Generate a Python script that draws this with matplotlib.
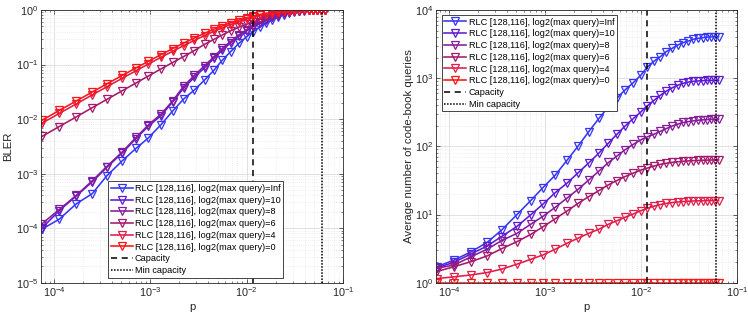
import numpy as np
import matplotlib
matplotlib.use("Agg")
import matplotlib.pyplot as plt
from matplotlib.ticker import LogLocator, NullFormatter

plt.rcParams.update({
    "font.family": ["Liberation Sans", "DejaVu Sans"],
    "font.size": 7.5, "mathtext.fontset": "custom",
    "mathtext.rm": "Liberation Sans", "mathtext.it": "Liberation Sans",
    "xtick.direction": "in", "ytick.direction": "in",
    "xtick.top": True, "ytick.right": True,
    "xtick.minor.visible": True, "ytick.minor.visible": True,
})

# crossover probability grid
p = [7.46e-5, 1.13e-4, 1.70e-4, 2.49e-4, 3.52e-4, 5.1e-4, 7.08e-4, 9.5e-4,
     1.28e-3, 1.70e-3, 2.21e-3, 2.85e-3, 3.65e-3, 4.58e-3, 5.6e-3, 6.8e-3,
     8.3e-3, 1.0e-2, 1.16e-2, 1.37e-2, 1.59e-2, 1.83e-2, 2.11e-2, 2.42e-2,
     2.74e-2, 3.12e-2, 3.51e-2, 3.96e-2, 4.42e-2, 4.9e-2, 5.4e-2, 5.94e-2,
     6.43e-2]
capacity = 0.0116
min_capacity = 0.0604

labels = ["RLC [128,116], log2(max query)=Inf",
          "RLC [128,116], log2(max query)=10",
          "RLC [128,116], log2(max query)=8",
          "RLC [128,116], log2(max query)=6",
          "RLC [128,116], log2(max query)=4",
          "RLC [128,116], log2(max query)=0"]
colors = ["#3535f5", "#5c1ad2", "#861c98", "#a4196c", "#e01c48", "#ff1414"]

# BLER (left)
bler_inf = [9.6e-5, 1.46e-4, 2.8e-4, 4.3e-4, 9.1e-4, 1.72e-3, 2.9e-3, 4.5e-3,
            7.8e-3, 0.014, 0.0233, 0.034, 0.052, 0.079, 0.121, 0.172, 0.245,
            0.324, 0.40, 0.49, 0.57, 0.66, 0.745, 0.82, 0.875, 0.92, 0.952,
            0.972, 0.985, 0.992, 0.996, 0.998, 0.999]
bler_10 = [1.0e-4, 2.1e-4, 3.9e-4, 7.1e-4, 1.3e-3, 2.4e-3, 4.4e-3, 7.4e-3,
           0.0115, 0.0205, 0.037, 0.058, 0.088, 0.13, 0.185, 0.25, 0.33,
           0.415, 0.49, 0.575, 0.655, 0.735, 0.81, 0.87, 0.915, 0.948, 0.97,
           0.983, 0.991, 0.995, 0.998, 0.999, 0.9995]
bler_8 = [1.2e-4, 2.2e-4, 4.0e-4, 7.4e-4, 1.35e-3, 2.5e-3, 4.6e-3, 7.8e-3,
          0.0122, 0.0215, 0.040, 0.063, 0.095, 0.14, 0.20, 0.265, 0.35, 0.435,
          0.51, 0.595, 0.675, 0.755, 0.825, 0.88, 0.922, 0.953, 0.973, 0.985,
          0.992, 0.996, 0.998, 0.999, 0.9995]
bler_6 = [4.8e-3, 7.3e-3, 0.011, 0.0162, 0.0229, 0.0331, 0.0458, 0.0615,
          0.0827, 0.109, 0.14, 0.18, 0.235, 0.29, 0.35, 0.415, 0.485, 0.55,
          0.60, 0.675, 0.74, 0.796, 0.846, 0.888, 0.92, 0.947, 0.966, 0.98,
          0.988, 0.993, 0.996, 0.998, 0.999]
bler_4 = [8.4e-3, 0.0127, 0.019, 0.0278, 0.039, 0.056, 0.0769, 0.102,
          0.135, 0.175, 0.222, 0.276, 0.339, 0.407, 0.471, 0.54, 0.613,
          0.682, 0.736, 0.793, 0.84, 0.88, 0.914, 0.94, 0.959, 0.974, 0.984,
          0.991, 0.995, 0.997, 0.9985, 0.9992, 0.9996]
bler_0 = [9.5e-3, 0.0144, 0.0215, 0.0314, 0.0441, 0.0632, 0.0866, 0.1145,
          0.151, 0.196, 0.247, 0.306, 0.374, 0.445, 0.513, 0.583, 0.656,
          0.724, 0.775, 0.829, 0.871, 0.906, 0.935, 0.957, 0.971, 0.983,
          0.990, 0.994, 0.997, 0.998, 0.9992, 0.9996, 0.9998]

# average number of code-book queries (right)
q_inf = [1.72, 2.15, 2.85, 3.9, 5.9, 10.0, 16.0, 24.8, 38, 63, 101, 164, 258,
         382, 507, 671, 859, 1114, 1450, 1780, 2070, 2450, 2740, 3070, 3320,
         3510, 3720, 3850, 3930, 4000, 4030, 4050, 4070]
q_10 = [1.65, 2.0, 2.65, 3.45, 4.75, 6.7, 9.9, 14.2, 21, 29, 41, 57, 80, 112,
        150, 198, 255, 322, 392, 475, 562, 645, 722, 790, 840, 878, 900, 912,
        920, 925, 928, 930, 932]
q_8 = [1.63, 1.82, 2.41, 3.1, 4.14, 5.3, 7.2, 9.4, 12.8, 17.5, 23.5, 32, 43.5,
       58, 72, 89, 107, 125, 138, 151, 166, 182, 199, 212, 224, 231, 237, 242,
       245, 247, 249, 250, 251]
q_6 = [1.46, 1.72, 2.04, 2.47, 3.15, 4.0, 5.1, 6.6, 8.7, 11.3, 14.6, 18.3,
       22.5, 27.3, 31.5, 36, 40.5, 45, 48, 51.5, 54.5, 56.5, 58.3, 59.5, 60.5,
       61.2, 61.8, 62.2, 62.6, 62.8, 63, 63.1, 63.2]
q_4 = [1.15, 1.22, 1.3, 1.41, 1.58, 1.87, 2.2, 2.55, 3.1, 3.8, 4.5, 5.3, 6.1,
       7.2, 8.1, 9.1, 10.2, 11.4, 12.3, 13.3, 14.0, 14.6, 15.0, 15.3, 15.5,
       15.7, 15.8, 15.9, 15.9, 16.0, 16.0, 16.0, 16.0]
q_0 = [1.0] * len(p)

W, H = 748, 317
fig = plt.figure(figsize=(W / 100, H / 100), dpi=100)
ax1 = fig.add_axes([41 / W, 1 - 282.7 / H, 302 / W, 272.7 / H])
ax2 = fig.add_axes([436 / W, 1 - 282.7 / H, 301 / W, 272.7 / H])


def style(ax, ylim):
    ax.set_xscale("log"); ax.set_yscale("log")
    ax.set_xlim(7.3e-5, 0.1); ax.set_ylim(*ylim)
    ax.xaxis.set_major_locator(LogLocator(base=10, numticks=10))
    ax.xaxis.set_minor_locator(LogLocator(base=10, subs=np.arange(2, 10), numticks=20))
    ax.yaxis.set_major_locator(LogLocator(base=10, numticks=10))
    ax.yaxis.set_minor_locator(LogLocator(base=10, subs=np.arange(2, 10), numticks=20))
    ax.xaxis.set_minor_formatter(NullFormatter())
    ax.yaxis.set_minor_formatter(NullFormatter())
    ax.grid(True, which="major", color="#dcdcdc", lw=0.6)
    ax.grid(True, which="minor", color="#e4e4e4", lw=0.5, ls=":")
    ax.set_axisbelow(True)
    for s in ax.spines.values():
        s.set_color("#262626"); s.set_linewidth(0.6)
    ax.tick_params(which="major", length=3, width=0.5, colors="#262626",
                   labelsize=7.8, pad=2)
    ax.tick_params(which="minor", length=1.6, width=0.4, colors="#262626")
    ax.set_xlabel("p", fontsize=8.2, labelpad=2, color="#262626")


def draw(ax, series):
    for ys, c, lab in zip(series, colors, labels):
        ax.plot(p, ys, "-v", color=c, lw=1.15, ms=5.2, mfc="none", mew=0.9,
                label=lab)
    ax.axvline(capacity, color="k", ls=(0, (4, 3)), lw=1.1, label="Capacity")
    ax.axvline(min_capacity, color="k", ls=(0, (1, 1)), lw=1.1,
               label="Min capacity")


style(ax1, (1e-5, 1))
draw(ax1, [bler_inf, bler_10, bler_8, bler_6, bler_4, bler_0])
ax1.set_ylabel("BLER", fontsize=8.2, labelpad=2, color="#262626")

style(ax2, (1, 1e4))
draw(ax2, [q_inf, q_10, q_8, q_6, q_4, q_0])
ax2.set_ylabel("Average number of code-book queries", fontsize=8.2,
               labelpad=1, color="#262626")

legkw = dict(fontsize=6.55, frameon=True, fancybox=False, edgecolor="#262626",
             framealpha=1, borderpad=0.3, labelspacing=0.3, handlelength=2.4,
             handletextpad=0.25, borderaxespad=0)
leg1 = ax1.legend(loc="lower left", bbox_to_anchor=(0.222, 0.018), **legkw)
leg2 = ax2.legend(loc="upper left", bbox_to_anchor=(0.019, 0.982), **legkw)
for lg in (leg1, leg2):
    lg.get_frame().set_linewidth(0.6)

fig.savefig("out.png", dpi=100)
